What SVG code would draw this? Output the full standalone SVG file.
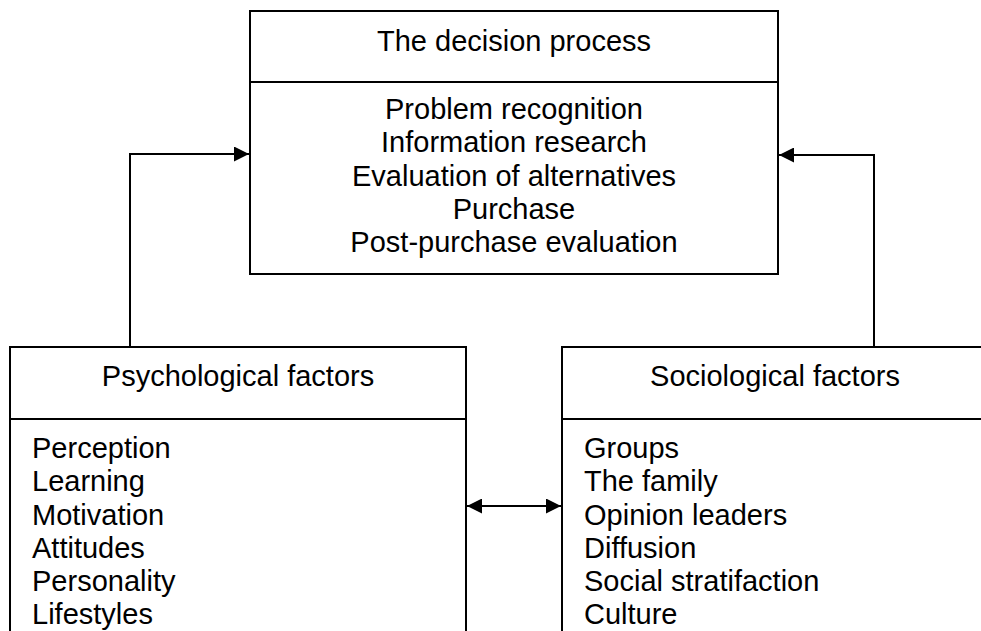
<svg xmlns="http://www.w3.org/2000/svg" width="981" height="631" viewBox="0 0 981 631">
  <style>
    .box { fill: #ffffff; stroke: #000000; stroke-width: 2; }
    .rule { stroke: #000000; stroke-width: 2; }
    .link { fill: none; stroke: #000000; stroke-width: 2; }
    text { font-family: "Liberation Sans", Arial, sans-serif; font-size: 29px; fill: #000000; }
    .mid { text-anchor: middle; }
  </style>
  <defs>
    <marker id="arrow" viewBox="0 0 15 15" refX="15" refY="7.5" markerWidth="15" markerHeight="15" markerUnits="userSpaceOnUse" orient="auto-start-reverse">
      <path d="M0,0 L15,7.5 L0,15 Z" fill="#000000"/>
    </marker>
  </defs>

  <rect width="981" height="631" fill="#ffffff"/>

  <!-- connectors -->
  <g id="connectors">
    <path class="link" d="M130,347 V154 H249" marker-end="url(#arrow)"/>
    <path class="link" d="M874,347 V155 H779" marker-end="url(#arrow)"/>
    <path class="link" d="M467,506 H561" marker-start="url(#arrow)" marker-end="url(#arrow)"/>
  </g>

  <!-- decision process -->
  <g id="decision-process">
    <rect class="box" x="250" y="11" width="528" height="263"/>
    <line class="rule" x1="250" y1="82" x2="778" y2="82"/>
    <text class="mid" x="514" y="51">The decision process</text>
    <text class="mid" x="514" y="119">Problem recognition</text>
    <text class="mid" x="514" y="152">Information research</text>
    <text class="mid" x="514" y="186">Evaluation of alternatives</text>
    <text class="mid" x="514" y="219">Purchase</text>
    <text class="mid" x="514" y="252">Post-purchase evaluation</text>
  </g>

  <!-- psychological factors -->
  <g id="psychological-factors">
    <rect class="box" x="10" y="347" width="456" height="300"/>
    <line class="rule" x1="10" y1="419" x2="466" y2="419"/>
    <text class="mid" x="238" y="386">Psychological factors</text>
    <text x="32" y="458">Perception</text>
    <text x="32" y="491">Learning</text>
    <text x="32" y="525">Motivation</text>
    <text x="32" y="558">Attitudes</text>
    <text x="32" y="591">Personality</text>
    <text x="32" y="624">Lifestyles</text>
  </g>

  <!-- sociological factors -->
  <g id="sociological-factors">
    <rect class="box" x="562" y="347" width="428" height="300"/>
    <line class="rule" x1="562" y1="419" x2="990" y2="419"/>
    <text class="mid" x="775" y="386">Sociological factors</text>
    <text x="584" y="458">Groups</text>
    <text x="584" y="491">The family</text>
    <text x="584" y="525">Opinion leaders</text>
    <text x="584" y="558">Diffusion</text>
    <text x="584" y="591">Social stratifaction</text>
    <text x="584" y="624">Culture</text>
  </g>
</svg>
